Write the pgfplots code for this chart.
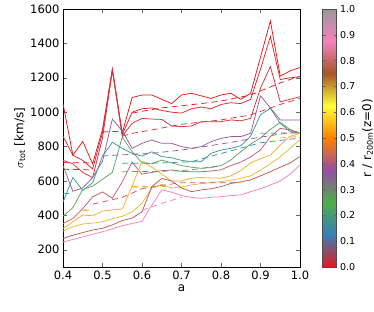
\documentclass[border=0pt]{standalone}
\usepackage{pgfplots}
\pgfplotsset{compat=1.18}
\usepackage{fontspec}
\setmainfont{DejaVu Sans}
\definecolor{rA}{RGB}{228,26,28}
\definecolor{rB}{RGB}{222,38,45}
\definecolor{rC}{RGB}{214,52,62}
\definecolor{cteal}{RGB}{60,150,155}
\definecolor{cgreen}{RGB}{100,160,105}
\definecolor{cpurp}{RGB}{150,92,150}
\definecolor{corange}{RGB}{252,172,40}
\definecolor{cgold}{RGB}{228,188,55}
\definecolor{crosy}{RGB}{196,92,112}
\definecolor{cbrown}{RGB}{192,92,82}
\definecolor{cpink}{RGB}{238,132,190}
\pgfplotsset{colormap={setone}{rgb255=(228,26,28) rgb255=(55,126,184) rgb255=(77,175,74) rgb255=(152,78,163) rgb255=(255,127,0) rgb255=(255,255,51) rgb255=(166,86,40) rgb255=(247,129,191) rgb255=(153,153,153)}}
\tikzset{dsh/.style={dash pattern=on 6pt off 4pt}}
\begin{document}
\begin{tikzpicture}
\path[use as bounding box] (-63pt,-45pt) rectangle (311pt,267pt);
\begin{axis}[
  at={(0,0)}, anchor=south west,
  scale only axis, width=237pt, height=258pt,
  xmin=0.4, xmax=1.0, ymin=100, ymax=1600,
  xtick={0.4,0.5,0.6,0.7,0.8,0.9,1.0},
  ytick={200,400,600,800,1000,1200,1400,1600},
  xticklabel style={/pgf/number format/.cd,fixed,precision=1,zerofill},
  yticklabel style={/pgf/number format/.cd,fixed,1000 sep={}},
  /pgf/number format/assume math mode=true,
  tick label style={font=\fontsize{11.5}{13}\selectfont},
  label style={font=\fontsize{12}{14}\selectfont},
  xlabel={a}, ylabel={$\sigma_{\mathrm{tot}}$ [km/s]},
  xlabel style={yshift=1pt},
  ylabel style={yshift=-2pt},
  major tick length=4pt,
  tick align=inside,
  every tick/.style={black!60},
  axis line style={black, line width=0.8pt},
  colormap name=setone,
  point meta min=0, point meta max=1,
  colorbar,
  colorbar style={
    width=14pt,
    at={(parent axis.north east)}, anchor=north west, xshift=14pt,
    ytick={0,0.1,0.2,0.3,0.4,0.5,0.6,0.7,0.8,0.9,1.0},
    yticklabel style={/pgf/number format/.cd,fixed,precision=1,zerofill,assume math mode=true},
    tick label style={font=\fontsize{9.5}{11}\selectfont},
    major tick length=3pt,
    ylabel={r / r$_{\mathrm{200m}}$(z=0)},
    ylabel style={font=\fontsize{12}{14}\selectfont},
    axis line style={black!70, line width=0.8pt},
  },
  every axis plot/.append style={line width=0.75pt},
]
% solid lines
\addplot[rA] coordinates {(0.4,1050)(0.425,750)(0.45,830)(0.475,700)(0.5,900)(0.525,1250)(0.55,880)(0.575,1085)(0.6,1100)(0.625,1100)(0.65,1075)(0.675,1050)(0.7,1100)(0.725,1110)(0.75,1095)(0.775,1080)(0.8,1100)(0.825,1110)(0.85,1075)(0.875,1110)(0.9,1320)(0.925,1530)(0.95,1210)(0.975,1240)(1.0,1260)};
\addplot[rB] coordinates {(0.4,860)(0.425,750)(0.45,720)(0.475,670)(0.5,880)(0.525,1250)(0.55,870)(0.575,1000)(0.6,1020)(0.625,1025)(0.65,1010)(0.675,1000)(0.7,995)(0.725,1020)(0.75,1030)(0.775,1020)(0.8,1045)(0.825,1055)(0.85,1050)(0.875,1075)(0.9,1250)(0.925,1440)(0.95,1190)(0.975,1200)(1.0,1205)};
\addplot[rC] coordinates {(0.4,720)(0.425,700)(0.45,650)(0.475,620)(0.5,850)(0.525,1240)(0.55,860)(0.575,935)(0.6,964)(0.625,960)(0.65,958)(0.675,920)(0.7,916)(0.725,920)(0.75,945)(0.775,945)(0.8,945)(0.825,955)(0.85,950)(0.875,964)(0.9,1140)(0.925,1265)(0.95,1060)(0.975,1075)(1.0,1090)};
\addplot[cpurp] coordinates {(0.4,690)(0.425,540)(0.45,560)(0.475,620)(0.5,715)(0.525,960)(0.55,890)(0.575,790)(0.6,819)(0.625,838)(0.65,819)(0.675,819)(0.7,800)(0.725,790)(0.75,800)(0.775,829)(0.8,848)(0.825,858)(0.85,858)(0.875,877)(0.9,1095)(0.925,1025)(0.95,955)(0.975,955)(1.0,955)};
\addplot[cteal] coordinates {(0.4,478)(0.425,620)(0.45,545)(0.475,590)(0.5,745)(0.525,825)(0.55,790)(0.575,760)(0.6,745)(0.625,770)(0.65,742)(0.675,735)(0.7,720)(0.725,712)(0.75,712)(0.775,761)(0.8,780)(0.825,790)(0.85,805)(0.875,860)(0.9,985)(0.925,1023)(0.95,935)(0.975,887)(1.0,877)};
\addplot[cgreen] coordinates {(0.4,396)(0.425,445)(0.45,550)(0.475,570)(0.5,610)(0.525,650)(0.55,855)(0.575,770)(0.6,705)(0.625,700)(0.65,722)(0.675,705)(0.7,690)(0.725,680)(0.75,674)(0.775,678)(0.8,690)(0.825,722)(0.85,770)(0.875,815)(0.9,850)(0.925,900)(0.95,940)(0.975,900)(1.0,877)};
\addplot[crosy] coordinates {(0.4,353)(0.425,382)(0.45,440)(0.475,508)(0.5,537)(0.525,500)(0.55,595)(0.575,710)(0.6,640)(0.625,650)(0.65,660)(0.675,664)(0.7,656)(0.725,654)(0.75,654)(0.775,658)(0.8,665)(0.825,690)(0.85,710)(0.875,740)(0.9,780)(0.925,858)(0.95,906)(0.975,897)(1.0,877)};
\addplot[corange] coordinates {(0.4,324)(0.425,363)(0.45,402)(0.475,398)(0.5,425)(0.525,432)(0.55,437)(0.575,570)(0.6,715)(0.625,680)(0.65,640)(0.675,600)(0.7,600)(0.725,616)(0.75,620)(0.775,618)(0.8,616)(0.825,630)(0.85,660)(0.875,705)(0.9,730)(0.925,751)(0.95,809)(0.975,860)(1.0,877)};
\addplot[cgold] coordinates {(0.4,309)(0.425,334)(0.45,350)(0.475,355)(0.5,363)(0.525,380)(0.55,395)(0.575,420)(0.6,470)(0.625,560)(0.65,580)(0.675,560)(0.7,565)(0.725,577)(0.75,585)(0.775,590)(0.8,596)(0.825,605)(0.85,615)(0.875,630)(0.9,664)(0.925,700)(0.95,740)(0.975,790)(1.0,840)};
\addplot[cbrown] coordinates {(0.4,266)(0.425,285)(0.45,300)(0.475,315)(0.5,325)(0.525,345)(0.55,370)(0.575,385)(0.6,421)(0.625,567)(0.65,615)(0.675,600)(0.7,560)(0.725,538)(0.75,548)(0.775,555)(0.8,567)(0.825,586)(0.85,595)(0.875,606)(0.9,630)(0.925,654)(0.95,680)(0.975,705)(1.0,742)};
\addplot[cpink] coordinates {(0.4,245)(0.425,260)(0.45,275)(0.475,290)(0.5,305)(0.525,322)(0.55,340)(0.575,353)(0.6,365)(0.625,460)(0.65,548)(0.675,535)(0.7,515)(0.725,505)(0.75,499)(0.775,505)(0.8,509)(0.825,515)(0.85,519)(0.875,538)(0.9,555)(0.925,577)(0.95,600)(0.975,640)(1.0,693)};
% dashed lines
\addplot[rA, dsh] coordinates {(0.4,707)(0.475,705)};
\addplot[rB, dsh] coordinates {(0.4,668)(0.475,665)};
\addplot[rA, dsh] coordinates {(0.5,885)(0.55,890)};
\addplot[rA, dsh] coordinates {(0.575,995)(0.65,1025)(0.75,1050)(0.8,1065)(0.875,1100)(0.95,1170)(1.0,1210)};
\addplot[rC, dsh] coordinates {(0.55,860)(0.575,877)(0.625,897)(0.7,930)(0.8,955)(0.875,984)(0.95,1045)(1.0,1080)};
\addplot[cpurp, dsh] coordinates {(0.5,745)(0.55,752)(0.625,761)(0.7,780)(0.8,815)(0.9,855)(1.0,890)};
\addplot[cteal, dsh] coordinates {(0.4,525)(0.425,530)};
\addplot[cteal, dsh] coordinates {(0.55,703)(0.65,705)(0.725,712)(0.8,760)(0.9,822)(1.0,850)};
\addplot[cgreen, dsh] coordinates {(0.55,654)(0.65,656)(0.725,665)(0.8,690)};
\addplot[cgreen, dsh] coordinates {(0.9,877)(1.0,880)};
\addplot[corange, dsh, line width=1.2pt] coordinates {(0.45,428)(0.475,435)};
\addplot[corange, dsh, line width=1.2pt] coordinates {(0.575,567)(0.625,567)(0.66,568)};
\addplot[corange, dsh] coordinates {(0.95,850)(1.0,860)};
\addplot[crosy, dsh] coordinates {(0.475,465)(0.55,505)(0.6,555)(0.65,575)(0.7,590)(0.75,590)(0.8,590)(0.85,590)};
\addplot[cpink, dsh] coordinates {(0.6,430)(0.65,470)(0.7,505)};
\end{axis}
\end{tikzpicture}
\end{document}
